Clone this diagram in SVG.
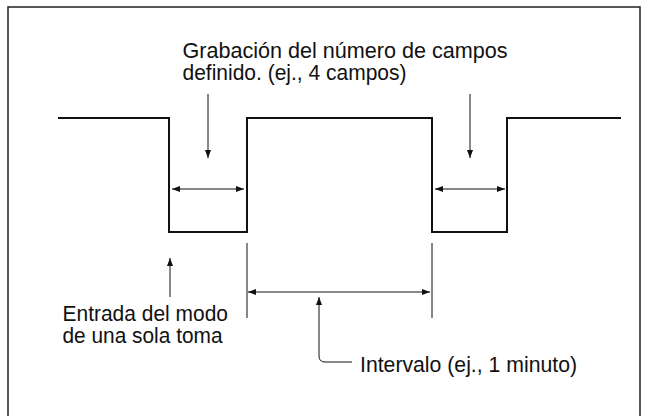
<svg xmlns="http://www.w3.org/2000/svg" width="648" height="416" viewBox="0 0 648 416">
<style>
.t{font-family:"Liberation Sans",Arial,sans-serif;font-size:21.5px;fill:#111}
.w{fill:none;stroke:#111;stroke-width:2}
.a{fill:none;stroke:#111;stroke-width:1}
.frame{fill:none;stroke:#222;stroke-width:1.5}
</style>
<defs>
<marker id="ah" viewBox="0 0 8 6" refX="8" refY="3" markerWidth="8" markerHeight="6" markerUnits="userSpaceOnUse" orient="auto-start-reverse">
<path d="M0,0 L8,3 L0,6 z" fill="#111"/>
</marker>
</defs>
<rect class="frame" x="8" y="7" width="632" height="420"/>
<g id="waveform">
<path class="w" d="M58,118 H169 V232 H247 V118 H432 V232 H507 V118 H621"/>
</g>
<g id="label-grabacion">
<text class="t" x="182.5" y="58" textLength="325" lengthAdjust="spacingAndGlyphs">Grabación del número de campos</text>
<text class="t" x="182.5" y="80" textLength="224" lengthAdjust="spacingAndGlyphs">definido. (ej., 4 campos)</text>
</g>
<g id="label-entrada">
<text class="t" x="62.5" y="320.5" textLength="165.5" lengthAdjust="spacingAndGlyphs">Entrada del modo</text>
<text class="t" x="62.5" y="343" textLength="160" lengthAdjust="spacingAndGlyphs">de una sola toma</text>
</g>
<g id="label-intervalo">
<text class="t" x="360" y="371.5" textLength="217" lengthAdjust="spacingAndGlyphs">Intervalo (ej., 1 minuto)</text>
</g>
<g id="connectors">
<line class="a" x1="208" y1="94" x2="208" y2="158" marker-end="url(#ah)"/>
<line class="a" x1="470" y1="94" x2="470" y2="158" marker-end="url(#ah)"/>
<line class="a" x1="172" y1="189" x2="244" y2="189" marker-start="url(#ah)" marker-end="url(#ah)"/>
<line class="a" x1="435" y1="189" x2="505" y2="189" marker-start="url(#ah)" marker-end="url(#ah)"/>
<line class="a" x1="247" y1="243" x2="247" y2="318"/>
<line class="a" x1="432" y1="243" x2="432" y2="318"/>
<line class="a" x1="248" y1="292" x2="430" y2="292" marker-start="url(#ah)" marker-end="url(#ah)"/>
<line class="a" x1="170" y1="297" x2="170" y2="258" marker-end="url(#ah)"/>
<path class="a" d="M352,362 H325 Q319,362 319,356 V297" marker-end="url(#ah)"/>
</g>
</svg>
